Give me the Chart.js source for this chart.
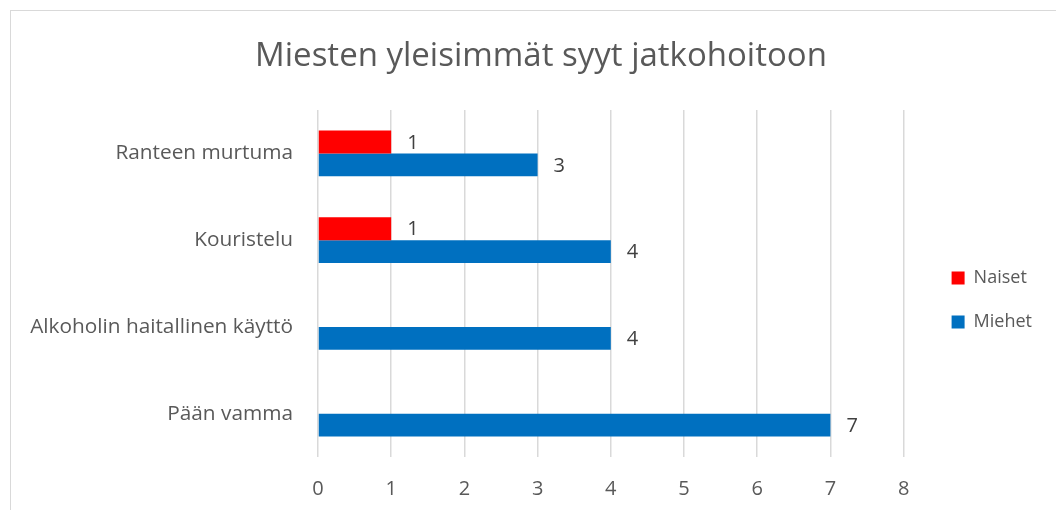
<!DOCTYPE html>
<html lang="fi">
<head>
    <meta charset="UTF-8">
    <title>Miesten yleisimmät syyt jatkohoitoon</title>
    <script src="https://cdn.jsdelivr.net/npm/chart.js"></script>
    <style>
        html, body { margin: 0; padding: 0; background: #fff; }
        #wrap { position: relative; width: 1056px; height: 510px; overflow: hidden; }
        #frame { position: absolute; left: 10px; top: 10px; width: 1100px; height: 600px;
                 border: 1px solid #d9d9d9; box-sizing: border-box; }
        canvas { position: absolute; left: 0; top: 0; }
    </style>
</head>
<body>
<div id="wrap">
    <div id="frame"></div>
    <canvas id="myChart" width="1056" height="510"></canvas>
</div>
<script>
    // data
    const categories = ['Ranteen murtuma', 'Kouristelu', 'Alkoholin haitallinen käyttö', 'Pään vamma'];
    const naiset = [1, 1, null, null];
    const miehet = [3, 4, 4, 7];
    const xTicks = [0, 1, 2, 3, 4, 5, 6, 7, 8];

    const FONT = "'Open Sans', 'DejaVu Sans', sans-serif";
    const TEXT = '#595959';

    // arvot palkkien perään
    const valueLabels = {
        id: 'valueLabels',
        afterLayout(chart) {
            // pitkä kategorianimi saa mennä y-akselin reunan yli (ei leikkausta)
            chart.scales.y.left = 0;
        },
        afterDatasetsDraw(chart) {
            const ctx = chart.ctx;
            ctx.save();
            ctx.font = '20px ' + FONT;
            ctx.fillStyle = '#404040';
            ctx.textAlign = 'left';
            ctx.textBaseline = 'middle';
            chart.data.datasets.forEach((ds, i) => {
                const meta = chart.getDatasetMeta(i);
                meta.data.forEach((bar, j) => {
                    const v = ds.data[j];
                    if (v === null || v === undefined) return;
                    ctx.fillText(String(v), bar.x + 16, bar.y + 1);
                });
            });
            ctx.restore();
        }
    };

    const ctx = document.getElementById('myChart').getContext('2d');
    const myChart = new Chart(ctx, {
        type: 'bar',
        data: {
            labels: categories,
            datasets: [
                { label: 'Naiset', data: naiset, backgroundColor: '#ff0000' },
                { label: 'Miehet', data: miehet, backgroundColor: '#0070c0' }
            ]
        },
        options: {
            indexAxis: 'y',
            responsive: false,
            animation: false,
            categoryPercentage: 0.53,
            barPercentage: 1,
            layout: { padding: { left: 40, right: 14, top: 0, bottom: 0 } },
            plugins: {
                title: {
                    display: true,
                    text: 'Miesten yleisimmät syyt jatkohoitoon',
                    color: TEXT,
                    font: { family: FONT, size: 33, weight: 'normal', lineHeight: 1.2 },
                    padding: { top: 37, bottom: 33.4 }
                },
                legend: {
                    position: 'right',
                    fullSize: false,
                    title: { display: true, text: ' ', font: { size: 10, lineHeight: 3.3 }, padding: 0 },
                    labels: {
                        color: TEXT,
                        font: { family: FONT, size: 18 },
                        boxWidth: 13,
                        boxHeight: 13,
                        padding: 26
                    }
                },
                tooltip: { enabled: false }
            },
            scales: {
                y: {
                    grid: { display: false },
                    border: { display: false },
                    ticks: { color: TEXT, font: { family: FONT, size: 20.8 }, padding: 17 },
                    afterFit: s => { s.width = 278; }
                },
                gap: {
                    type: 'linear',
                    position: 'right',
                    display: true,
                    grid: { display: false },
                    border: { display: false },
                    ticks: { display: false },
                    afterFit: s => { s.width = 22; }
                },
                x: {
                    min: 0,
                    max: 8,
                    afterBuildTicks: s => { s.ticks = xTicks.map(v => ({ value: v })); },
                    grid: { color: '#d9d9d9', lineWidth: 1.5, drawTicks: false },
                    border: { display: false },
                    ticks: { color: TEXT, font: { family: FONT, size: 20 }, padding: 20 },
                    afterFit: s => { s.height = 53; }
                }
            }
        },
        plugins: [valueLabels]
    });
</script>
</body>
</html>
